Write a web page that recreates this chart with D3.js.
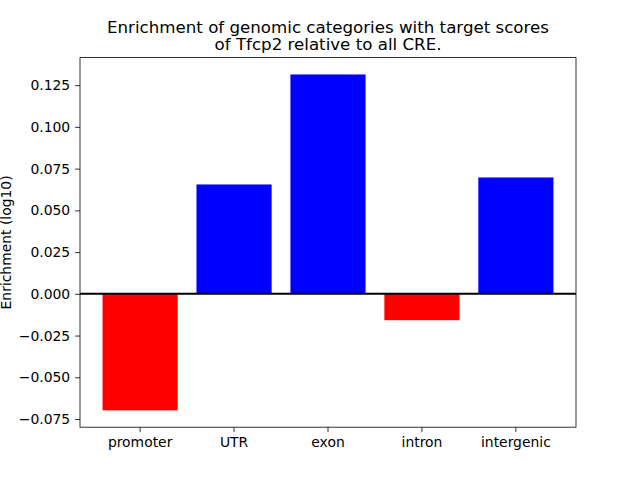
<!DOCTYPE html>
<html><head><meta charset="utf-8">
<script src="https://cdn.jsdelivr.net/npm/d3@7"></script>
<style>body{margin:0;background:#fff}text{font-family:"DejaVu Sans",sans-serif;fill:#000}</style>
</head><body><svg id="c" width="640" height="480"></svg>
<script>
const categories = ["promoter","UTR","exon","intron","intergenic"];
const values = [-0.0698, 0.0655, 0.1314, -0.0158, 0.0697];
const yTicks = [-0.075,-0.050,-0.025,0.000,0.025,0.050,0.075,0.100,0.125];
const titleLines = ["Enrichment of genomic categories with target scores","of Tfcp2 relative to all CRE."];
const yLabel = "Enrichment (log10)";

const svg = d3.select("#c");
const L=80,R=576,T=57.6,B=427.2;
const x = d3.scaleBand().domain(categories).range([L,R]).paddingInner(0.2).paddingOuter(0.24);
const y = d3.scaleLinear().domain([-0.0799,0.1415]).range([B,T]);

svg.append("g").selectAll("rect").data(values).join("rect")
 .attr("x",(d,i)=>x(categories[i])).attr("width",x.bandwidth())
 .attr("y",d=>y(Math.max(0,d))).attr("height",d=>Math.abs(y(d)-y(0)))
 .attr("fill",d=>d>=0?"#0000ff":"#ff0000");

svg.append("line").attr("x1",L).attr("x2",R).attr("y1",y(0)).attr("y2",y(0)).attr("stroke","#000").attr("stroke-width",2);

const ya = svg.append("g").attr("transform",`translate(${L},0)`)
 .call(d3.axisLeft(y).tickValues(yTicks).tickSize(4.9).tickPadding(4.9).tickFormat(d=>d3.format(".3f")(d).replace("-","\u2212")));
const xa = svg.append("g").attr("transform",`translate(0,${B})`)
 .call(d3.axisBottom(x).tickSize(4.9).tickPadding(4.9));
[ya,xa].forEach(a=>{a.select(".domain").remove();a.selectAll("text").attr("font-size","13.9px").attr("font-family","DejaVu Sans");a.selectAll("line").attr("stroke","#000").attr("stroke-width",0.8);});

svg.append("rect").attr("x",L).attr("y",T).attr("width",R-L).attr("height",B-T).attr("fill","none").attr("stroke","#000").attr("stroke-width",0.8);

svg.append("text").attr("transform",`translate(10.5,${(T+B)/2}) rotate(-90)`).attr("text-anchor","middle").attr("font-size","13.9px").text(yLabel);

svg.selectAll(".title").data(titleLines).join("text").attr("class","title")
 .attr("x",(L+R)/2).attr("y",(d,i)=>32.5+i*17.5).attr("text-anchor","middle").attr("font-size","16.67px").text(d=>d);
</script></body></html>
